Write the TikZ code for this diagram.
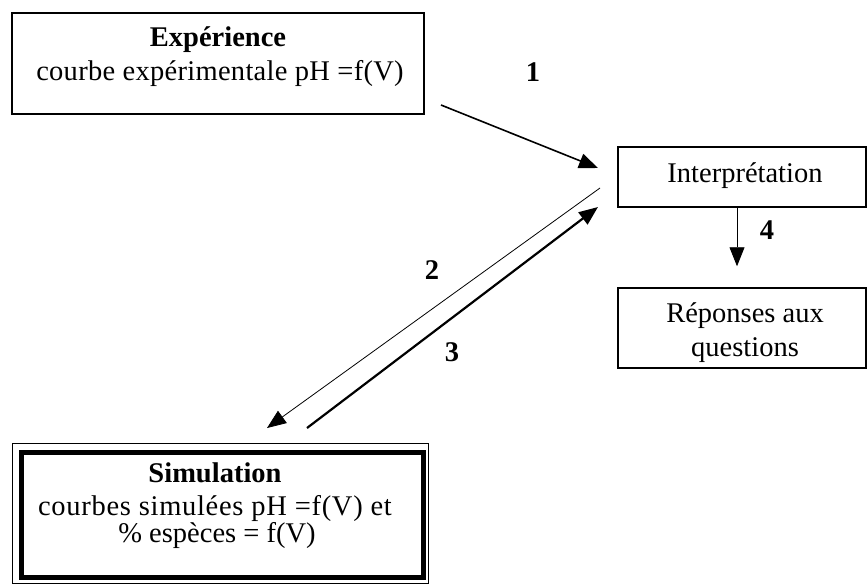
\documentclass[tikz,border=0pt]{standalone}
\usepackage{fontspec}
\setmainfont{Liberation Serif}
\usetikzlibrary{arrows.meta}
\begin{document}
\begin{tikzpicture}[x=1pt,y=-1pt,
 box/.style={draw,line width=1.5pt,inner sep=0pt},
 txt/.style={anchor=base,inner sep=0pt,font=\fontsize{28.5}{34}\selectfont},
 ttl/.style={anchor=base,inner sep=0pt,font=\fontsize{28.5}{34}\selectfont\bfseries},
 num/.style={anchor=base,inner sep=0pt,font=\fontsize{28.5}{34}\selectfont\bfseries},
 tip/.style={-{Triangle[length=19pt,width=15pt]}}]
\useasboundingbox (0,0) rectangle (867,587);
% boxes
\node[box,minimum width=412pt,minimum height=101pt] (exp) at (218,63.5) {};
\node[box,minimum width=248pt,minimum height=60pt] (interp) at (742,177) {};
\node[box,minimum width=248pt,minimum height=80pt] (rep) at (742,328) {};
\node[draw,line width=1pt,inner sep=0pt,minimum width=416pt,minimum height=140pt] (simout) at (220,513) {};
\node[draw,line width=5pt,inner sep=0pt,minimum width=402pt,minimum height=125pt] (sim) at (222,514.5) {};
% texts
\node[ttl] (exp1) at (218,46) {Expérience};
\node[txt] (exp2) at (220,80) {\addfontfeature{LetterSpace=1}courbe expérimentale pH =f(V)};
\node[txt] (int1) at (745,182) {Interprétation};
\node[txt] (rep1) at (745,322) {Réponses aux};
\node[txt] (rep2) at (745,356) {questions};
\node[ttl] (sim1) at (215,482) {Simulation};
\node[txt] (sim2) at (215,515) {\addfontfeature{LetterSpace=2.5}courbes simulées pH =f(V) et};
\node[txt] (sim3) at (217,542) {\% espèces = f(V)};
% numbers
\node[num] (n1) at (533,81) {1};
\node[num] (n2) at (432,279) {2};
\node[num] (n3) at (452,361) {3};
\node[num] (n4) at (767,239) {4};
% connectors
\coordinate (a1s) at (441,105);
\coordinate (a1e) at (598,168);
\coordinate (a2s) at (600,188);
\coordinate (a2e) at (267,428);
\coordinate (a3s) at (307,428);
\coordinate (a3e) at (598,207);
\draw[tip,line width=1.6pt] (a1s) -- (a1e);
\draw[tip,line width=0.8pt] (a2s) -- (a2e);
\draw[tip,line width=2.2pt] (a3s) -- (a3e);
\draw[tip,line width=0.8pt] ([xshift=-5pt]interp.south) -- ([xshift=-5pt,yshift=21pt]rep.north);
\end{tikzpicture}
\end{document}
